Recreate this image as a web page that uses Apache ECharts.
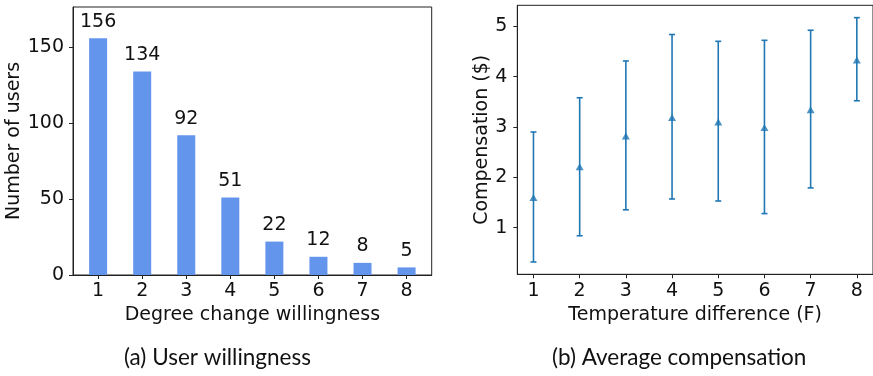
<!DOCTYPE html>
<html>
<head>
<meta charset="utf-8">
<script src="https://cdn.jsdelivr.net/npm/echarts@6/dist/echarts.min.js"></script>
<style>
html,body{margin:0;padding:0;background:#fff;}
#c{width:873px;height:376px;}
</style>
</head>
<body>
<div id="c"></div>
<script>
// Data
var degrees = [1, 2, 3, 4, 5, 6, 7, 8];
var userCounts = [156, 134, 92, 51, 22, 12, 8, 5];
var tempDiff = [1, 2, 3, 4, 5, 6, 7, 8];
var compMean = [1.60, 2.21, 2.82, 3.19, 3.10, 2.99, 3.34, 4.33];
var compLow = [0.32, 0.84, 1.355, 1.57, 1.53, 1.28, 1.79, 3.52];
var compHigh = [2.90, 3.58, 4.31, 4.835, 4.70, 4.72, 4.92, 5.17];
var leftYTicks = [0, 50, 100, 150];
var rightYTicks = [1, 2, 3, 4, 5];

var FONT = 'DejaVu Sans';
var FS = 19;
var AX = '#222';

var chart = echarts.init(document.getElementById('c'), null, {renderer: 'canvas'});

function axisCommon(ticks, margin) {
  return {
    axisLine: {show: true, onZero: false, lineStyle: {color: AX, width: 1}},
    axisTick: {show: true, inside: false, length: 4, lineStyle: {color: AX, width: 1}, customValues: ticks},
    axisLabel: {show: true, color: '#111', fontFamily: FONT, fontSize: FS, margin: margin, customValues: ticks},
    splitLine: {show: false}
  };
}

var barData = degrees.map(function (d, i) { return [d, userCounts[i]]; });
var meanData = tempDiff.map(function (d, i) { return [d, compMean[i]]; });
var errData = tempDiff.map(function (d, i) { return [d, compLow[i], compHigh[i]]; });

var option = {
  animation: false,
  backgroundColor: '#fff',
  grid: [
    {left: 73, top: 7, width: 358.7, height: 268, show: true, borderColor: AX, borderWidth: 1, backgroundColor: 'transparent'},
    {left: 517.3, top: 5.3, width: 361, height: 269, show: true, borderColor: AX, borderWidth: 1, backgroundColor: 'transparent'}
  ],
  xAxis: [
    Object.assign({
      type: 'value', gridIndex: 0, min: 0.43, max: 8.57,
      name: 'Degree change willingness', nameLocation: 'middle', nameGap: 27.5,
      nameTextStyle: {fontFamily: FONT, fontSize: FS, color: '#111'}
    }, axisCommon(degrees, 7)),
    Object.assign({
      type: 'value', gridIndex: 1, min: 0.65, max: 8.35,
      name: 'Temperature difference (F)', nameLocation: 'middle', nameGap: 27.5,
      nameTextStyle: {fontFamily: FONT, fontSize: FS, color: '#111'}
    }, axisCommon(tempDiff, 7))
  ],
  yAxis: [
    Object.assign({
      type: 'value', gridIndex: 0, min: 0, max: 176.5,
      name: 'Number of users', nameLocation: 'middle', nameGap: 47,
      nameTextStyle: {fontFamily: FONT, fontSize: FS, color: '#111'}
    }, axisCommon(leftYTicks, 9)),
    Object.assign({
      type: 'value', gridIndex: 1, min: 0.075, max: 5.415,
      name: 'Compensation ($)', nameLocation: 'middle', nameGap: 24,
      nameTextStyle: {fontFamily: FONT, fontSize: FS, color: '#111'}
    }, axisCommon(rightYTicks, 10))
  ],
  series: [
    {
      type: 'bar', xAxisIndex: 0, yAxisIndex: 0, data: barData,
      barWidth: 18,
      itemStyle: {color: '#6495ED'},
      label: {show: true, position: 'top', distance: 7, color: '#111', fontFamily: FONT, fontSize: FS}
    },
    {
      type: 'custom', xAxisIndex: 1, yAxisIndex: 1, data: errData,
      renderItem: function (params, api) {
        var x = api.value(0);
        var lo = api.coord([x, api.value(1)]);
        var hi = api.coord([x, api.value(2)]);
        var cw = 3;
        var st = {stroke: '#1f77b4', lineWidth: 1.6};
        return {
          type: 'group',
          children: [
            {type: 'line', shape: {x1: lo[0], y1: lo[1], x2: hi[0], y2: hi[1]}, style: st},
            {type: 'line', shape: {x1: lo[0] - cw, y1: lo[1], x2: lo[0] + cw, y2: lo[1]}, style: st},
            {type: 'line', shape: {x1: hi[0] - cw, y1: hi[1], x2: hi[0] + cw, y2: hi[1]}, style: st}
          ]
        };
      },
      z: 2
    },
    {
      type: 'scatter', xAxisIndex: 1, yAxisIndex: 1, data: meanData,
      symbol: 'triangle', symbolSize: [8, 7],
      itemStyle: {color: '#1f77b4'},
      z: 3
    }
  ],
  graphic: [
    {type: 'text', left: 124, top: 346, style: {text: '(a) User willingness', fontFamily: 'Lato', fontSize: 22.5, fill: '#111'}},
    {type: 'text', left: 552, top: 346, style: {text: '(b) Average compensation', fontFamily: 'Lato', fontSize: 22.5, fill: '#111'}}
  ]
};
chart.setOption(option);
</script>
</body>
</html>
